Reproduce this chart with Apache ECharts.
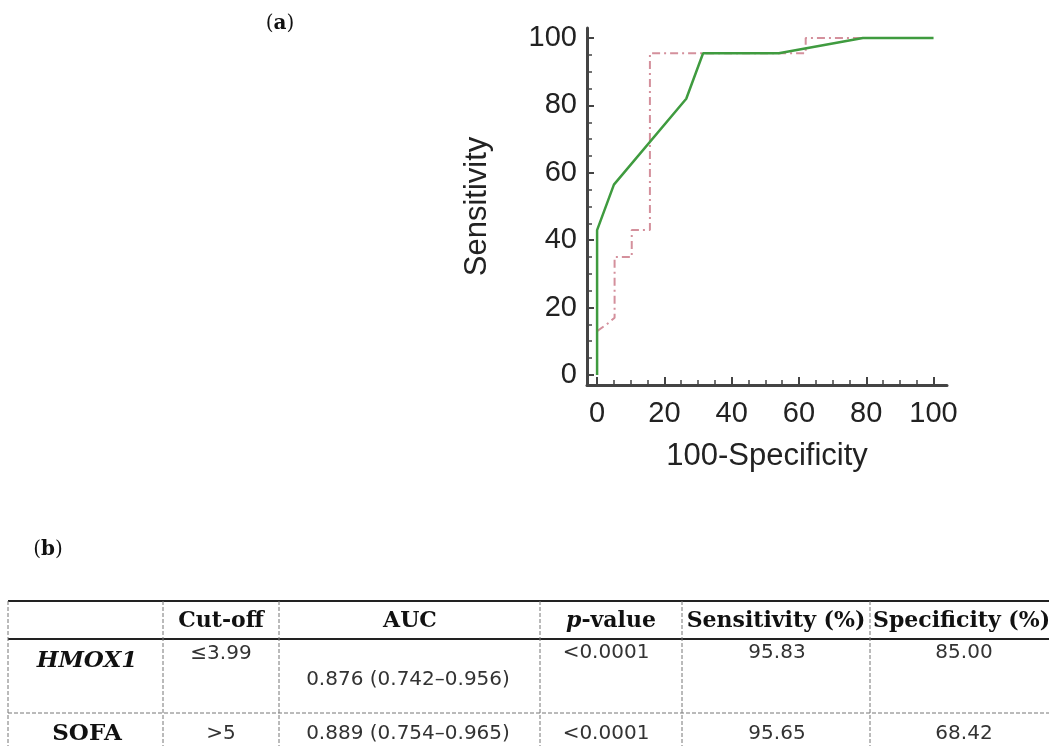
<!DOCTYPE html>
<html>
<head>
<meta charset="utf-8">
<script src="https://cdn.jsdelivr.net/npm/echarts@6/dist/echarts.min.js"></script>
<style>
html,body{margin:0;padding:0;background:#fff;}
#main{width:1049px;height:746px;}
</style>
</head>
<body>
<div id="main"></div>
<script>
// ROC curve data (x = 100-Specificity, y = Sensitivity)
const greenX = [0, 0, 5, 26.5, 31.5, 54, 79, 100];
const greenY = [0, 43, 56.5, 82, 95.5, 95.5, 100, 100];
const pinkX = [0, 3.5, 5.2, 5.2, 10.3, 10.3, 15.7, 15.7, 62, 62, 100];
const pinkY = [13, 15.5, 17, 35, 35, 43, 43, 95.5, 95.5, 100, 100];
const majorTicks = [0, 20, 40, 60, 80, 100];
const minorTicks = [0,5,10,15,20,25,30,35,40,45,50,55,60,65,70,75,80,85,90,95,100];
const xTitle = '100-Specificity';
const yTitle = 'Sensitivity';
// Table content
const tableHeader = ['', 'Cut-off', 'AUC', '{p|p}-value', 'Sensitivity (%)', 'Specificity (%)'];
const rowHMOX1 = ['HMOX1', '≤3.99', '0.876 (0.742–0.956)', '<0.0001', '95.83', '85.00'];
const rowSOFA = ['SOFA', '>5', '0.889 (0.754–0.965)', '<0.0001', '95.65', '68.42'];

const green = greenX.map((x, i) => [x, greenY[i]]);
const pink = pinkX.map((x, i) => [x, pinkY[i]]);

const chart = echarts.init(document.getElementById('main'));
const axisColor = '#444';
const labelFont = 'Liberation Sans, Arial, sans-serif';
const serif = 'DejaVu Serif, serif';
const sans = 'DejaVu Sans, sans-serif';

function baseAxis(extra) {
  return Object.assign({
    type: 'value',
    splitLine: { show: false },
  }, extra);
}

const graphics = [];
// panel labels
graphics.push({ type: 'text', style: { text: '({b|a})', x: 280, y: 24, align: 'center', verticalAlign: 'middle',
  font: '20px ' + serif, fill: '#111', rich: { b: { fontWeight: 'bold', fontSize: 20, fontFamily: serif } } } });
graphics.push({ type: 'text', style: { text: '({b|b})', x: 48, y: 550, align: 'center', verticalAlign: 'middle',
  font: '20px ' + serif, fill: '#111', rich: { b: { fontWeight: 'bold', fontSize: 20, fontFamily: serif } } } });

// table lines
const colX = [8, 163, 279, 540, 682, 870];
const tTop = 601, tHead = 639, tRow = 713, tBottom = 746;
graphics.push({ type: 'line', shape: { x1: 8, y1: tTop, x2: 1049, y2: tTop }, style: { stroke: '#222', lineWidth: 2 } });
graphics.push({ type: 'line', shape: { x1: 8, y1: tHead, x2: 1049, y2: tHead }, style: { stroke: '#222', lineWidth: 2 } });
graphics.push({ type: 'line', shape: { x1: 8, y1: tRow, x2: 1049, y2: tRow }, style: { stroke: '#777', lineWidth: 1, lineDash: [4, 2] } });
colX.forEach(x => {
  graphics.push({ type: 'line', shape: { x1: x, y1: tTop, x2: x, y2: tBottom }, style: { stroke: '#777', lineWidth: 1, lineDash: [4, 2] } });
});

// header texts
const headCenters = [85, 221, 410, 611, 776, 962];
tableHeader.forEach((t, i) => {
  if (!t) return;
  graphics.push({ type: 'text', style: { text: t, x: i === 5 ? 873 : headCenters[i], y: 621,
    align: i === 5 ? 'left' : 'center', verticalAlign: 'middle',
    fontFamily: serif, fontWeight: 'bold', fontSize: 22, fill: '#111',
    rich: { p: { fontStyle: 'italic', fontWeight: 'bold', fontFamily: serif, fontSize: 22 } } } });
});
// row 1
const dataCenters = [87, 221, 408, 606, 777, 964];
const row1Y = [661, 654, 680, 653, 653, 653];
rowHMOX1.forEach((t, i) => {
  const isName = i === 0;
  graphics.push({ type: 'text', style: { text: t, x: dataCenters[i], y: row1Y[i], align: 'center', verticalAlign: 'middle',
    fontFamily: isName ? serif : sans, fontWeight: isName ? 'bold' : 'normal', fontStyle: isName ? 'italic' : 'normal',
    fontSize: isName ? 23 : 20, fill: isName ? '#111' : '#333' } });
});
rowSOFA.forEach((t, i) => {
  const isName = i === 0;
  graphics.push({ type: 'text', style: { text: t, x: dataCenters[i], y: 734, align: 'center', verticalAlign: 'middle',
    fontFamily: isName ? serif : sans, fontWeight: isName ? 'bold' : 'normal',
    fontSize: isName ? 23 : 20, fill: isName ? '#111' : '#333' } });
});

chart.setOption({
  animation: false,
  backgroundColor: '#fff',
  grid: { left: 587, right: 102, top: 28, bottom: 361, containLabel: false },
  xAxis: [
    baseAxis({
      min: -3, max: 104, position: 'bottom',
      name: xTitle, nameLocation: 'middle', nameGap: 56,
      nameTextStyle: { fontSize: 31, fontFamily: labelFont, color: '#222' },
      axisLine: { onZero: false, lineStyle: { color: axisColor, width: 3 } },
      axisTick: { inside: true, length: 8, customValues: majorTicks, lineStyle: { color: axisColor, width: 2 } },
      axisLabel: { customValues: majorTicks, fontSize: 29, fontFamily: labelFont, color: '#222', margin: 14 }
    }),
    baseAxis({
      min: -3, max: 104, position: 'bottom',
      axisLine: { show: false, onZero: false },
      axisTick: { inside: true, length: 5, customValues: minorTicks, lineStyle: { color: axisColor, width: 1.5 } },
      axisLabel: { show: false }
    })
  ],
  yAxis: [
    baseAxis({
      min: -3, max: 103, position: 'left',
      name: yTitle, nameLocation: 'middle', nameGap: 94, nameRotate: 90,
      nameTextStyle: { fontSize: 31, fontFamily: labelFont, color: '#222' },
      axisLine: { onZero: false, lineStyle: { color: axisColor, width: 3 } },
      axisTick: { inside: true, length: 7, customValues: majorTicks, lineStyle: { color: axisColor, width: 2 } },
      axisLabel: { customValues: majorTicks, fontSize: 29, fontFamily: labelFont, color: '#222', margin: 10 }
    }),
    baseAxis({
      min: -3, max: 103, position: 'left',
      axisLine: { show: false, onZero: false },
      axisTick: { inside: true, length: 5, customValues: minorTicks, lineStyle: { color: axisColor, width: 1.5 } },
      axisLabel: { show: false }
    })
  ],
  series: [
    { type: 'line', data: pink, showSymbol: false, symbol: 'none', z: 2,
      lineStyle: { color: '#d4909c', width: 2, type: [8, 4, 2, 4] } },
    { type: 'line', data: green, showSymbol: false, symbol: 'none', z: 3,
      lineStyle: { color: '#3f9b3f', width: 2.5 } }
  ],
  graphic: graphics
});
</script>
</body>
</html>
